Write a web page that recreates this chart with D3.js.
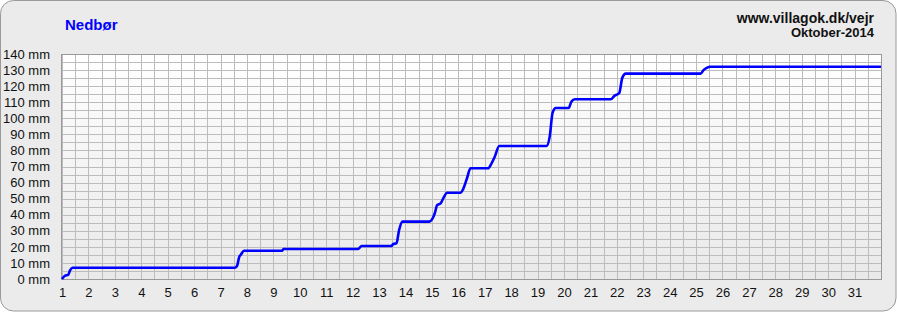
<!DOCTYPE html>
<html>
<head>
<meta charset="utf-8">
<script src="https://cdn.jsdelivr.net/npm/d3@7"></script>
<style>
  body { margin: 0; background: #fff; }
  svg { display: block; font-family: Arial, "Liberation Sans", sans-serif; }
</style>
</head>
<body>
<div id="chart"></div>
<script>
// Cumulative rainfall, Oktober 2014 (day of month as decimal, mm)
const days = [1.0, 1.11, 1.24, 1.30, 1.40, 7.55, 7.63, 7.71, 7.76, 7.89, 9.33, 9.38,
  12.21, 12.34, 13.47, 13.54, 13.66, 13.76, 13.89, 14.90, 15.05, 15.11, 15.20, 15.33,
  15.43, 15.58, 16.09, 16.18, 16.33, 16.46, 17.13, 17.26, 17.38, 17.55, 19.34, 19.46,
  19.57, 19.69, 20.18, 20.28, 20.41, 21.77, 21.92, 22.09, 22.21, 22.34, 25.17, 25.29,
  25.42, 25.54, 32.0];
const rain = [0, 2.0, 2.7, 5.2, 7.0, 7.0, 8.3, 13.9, 14.9, 17.6, 17.6, 18.7,
  18.7, 20.5, 20.5, 21.8, 22.2, 30.5, 35.7, 35.7, 38.4, 40.9, 46.0, 47.1,
  50.2, 53.7, 53.7, 55.8, 62.7, 68.9, 68.9, 72.0, 76.1, 82.8, 82.8, 88.6,
  103.5, 106.4, 106.4, 110.3, 111.8, 111.8, 114.1, 115.6, 125.3, 127.8, 127.8, 130.1,
  131.5, 132.1, 132.1];

const dayTicks = d3.range(1, 32);
const mmTicks = d3.range(0, 141, 10);
const titleText = "Nedbør";
const siteText = "www.villagok.dk/vejr";
const monthText = "Oktober-2014";

const W = 897, H = 312;
const margin = { left: 62, right: 16, top: 54, bottom: 33 };

const svg = d3.select("#chart").append("svg")
  .attr("width", W)
  .attr("height", H);

// Plot background gradient
const grad = svg.append("defs").append("linearGradient")
  .attr("id", "plotbg")
  .attr("x1", 0).attr("y1", 0).attr("x2", 0).attr("y2", 1);
grad.append("stop").attr("offset", "0%").attr("stop-color", "#ffffff");
grad.append("stop").attr("offset", "100%").attr("stop-color", "#e9e9e9");

// Outer panel
svg.append("rect")
  .attr("x", 0.5).attr("y", 0.5)
  .attr("width", W - 1.5).attr("height", H - 1.5)
  .attr("rx", 13)
  .attr("fill", "#ebebeb")
  .attr("stroke", "#9a9a9a");

const x = d3.scaleLinear()
  .domain([1, 32])
  .range([margin.left, W - margin.right]);

const y = d3.scaleLinear()
  .domain([0, 140])
  .range([H - margin.bottom, margin.top]);

svg.append("rect")
  .attr("x", x(1)).attr("y", y(140))
  .attr("width", x(32) - x(1)).attr("height", y(0) - y(140))
  .attr("fill", "url(#plotbg)");

// Grid: every half day and every 5 mm
const grid = svg.append("g").attr("stroke", "#bcbcbc").attr("stroke-width", 1);
grid.selectAll(".vg")
  .data(d3.range(1, 32.01, 0.5))
  .join("line")
  .attr("x1", d => Math.round(x(d)) + 0.5)
  .attr("x2", d => Math.round(x(d)) + 0.5)
  .attr("y1", y(140)).attr("y2", y(0));
grid.selectAll(".hg")
  .data(d3.range(0, 140.01, 5))
  .join("line")
  .attr("x1", x(1)).attr("x2", x(32))
  .attr("y1", d => Math.round(y(d)) + 0.5)
  .attr("y2", d => Math.round(y(d)) + 0.5);

// Frame
svg.append("rect")
  .attr("x", Math.round(x(1)) - 0.5).attr("y", Math.round(y(140)) + 0.5)
  .attr("width", Math.round(x(32)) - Math.round(x(1)) + 1)
  .attr("height", Math.round(y(0)) - Math.round(y(140)))
  .attr("fill", "none")
  .attr("stroke", "#999");

// Axes (labels only)
const yAxis = d3.axisLeft(y)
  .tickValues(mmTicks)
  .tickFormat(d => d + " mm")
  .tickSize(0)
  .tickPadding(12);
svg.append("g")
  .attr("transform", `translate(${x(1)},0)`)
  .call(yAxis)
  .call(g => g.select(".domain").remove())
  .call(g => g.selectAll("text")
    .attr("font-size", 13)
    .attr("font-family", "Arial, 'Liberation Sans', sans-serif")
    .attr("fill", "#111"));

const xAxis = d3.axisBottom(x)
  .tickValues(dayTicks)
  .tickFormat(d3.format("d"))
  .tickSize(0)
  .tickPadding(9);
svg.append("g")
  .attr("transform", `translate(0,${y(0)})`)
  .call(xAxis)
  .call(g => g.select(".domain").remove())
  .call(g => g.selectAll("text")
    .attr("font-size", 13)
    .attr("font-family", "Arial, 'Liberation Sans', sans-serif")
    .attr("fill", "#111"));

// Rain line
const pts = days.map((d, i) => [d, rain[i]]);
const line = d3.line()
  .x(d => x(d[0]))
  .y(d => y(d[1]))
  .curve(d3.curveMonotoneX);
svg.append("path")
  .datum(pts)
  .attr("d", line)
  .attr("fill", "none")
  .attr("stroke", "#0000ff")
  .attr("stroke-width", 2.6)
  .attr("stroke-linejoin", "round");

// Titles
svg.append("text")
  .attr("x", 65).attr("y", 30)
  .attr("font-size", 15)
  .attr("font-weight", "bold")
  .attr("fill", "#0000ff")
  .text(titleText);

svg.append("text")
  .attr("x", 874).attr("y", 23)
  .attr("text-anchor", "end")
  .attr("font-size", 14)
  .attr("font-weight", "bold")
  .attr("fill", "#111")
  .text(siteText);

svg.append("text")
  .attr("x", 874).attr("y", 37)
  .attr("text-anchor", "end")
  .attr("font-size", 13)
  .attr("font-weight", "bold")
  .attr("fill", "#111")
  .text(monthText);
</script>
</body>
</html>
